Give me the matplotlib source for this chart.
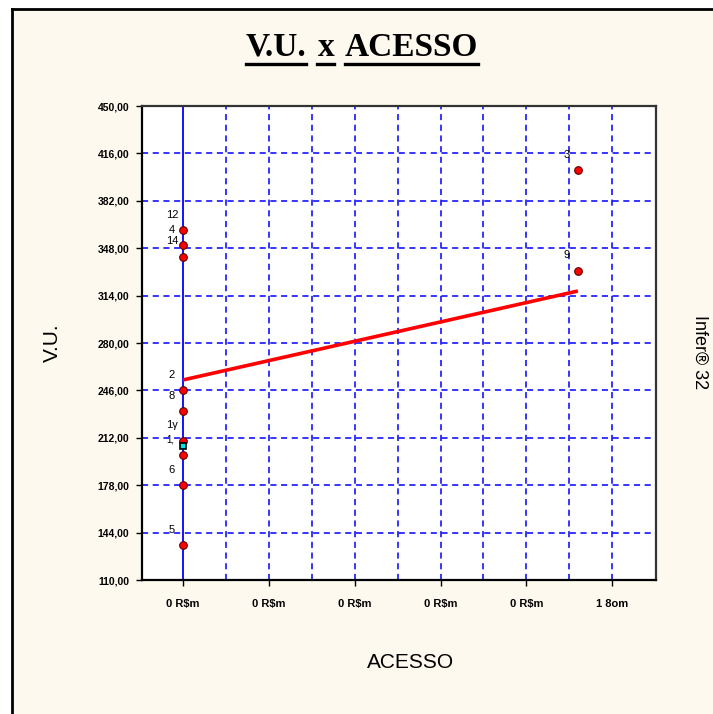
import numpy as np
import matplotlib
matplotlib.use("Agg")
import matplotlib.pyplot as plt
from matplotlib.lines import Line2D
from matplotlib.patches import Rectangle

# dados
y_ticks = [110, 144, 178, 212, 246, 280, 314, 348, 382, 416, 450]
y_labels = ["110,00", "144,00", "178,00", "212,00", "246,00", "280,00",
            "314,00", "348,00", "382,00", "416,00", "450,00"]
x_ticks = [0, 1, 2, 3, 4, 5]
x_labels = ["0 R$m", "0 R$m", "0 R$m", "0 R$m", "0 R$m", "1 8om"]

acesso = [0, 0, 0, 0, 0, 0, 0, 0, 0, 4.6, 4.6]
vu = [361, 350, 342, 246, 231, 210, 200, 178, 135, 404, 332]
rotulos = ["12", "4", "14", "2", "8", "1\u03b3", "", "6", "5", "3", "9"]

# ponto em destaque (ciano)
acesso_sel = [0]
vu_sel = [206]
rotulos_sel = ["1,"]

# reta de regressao
reta_x = [0, 4.6]
reta_y = [253.5, 317.3]

fundo = "#fdf9ee"

fig = plt.figure(figsize=(7.13, 7.14), dpi=100)
fig.patch.set_facecolor("white")
W, H = 713, 714
fig.patches.append(Rectangle((12 / W, 0), 1, 1 - 9 / H, transform=fig.transFigure,
                             facecolor=fundo, edgecolor="none", zorder=-10))
fig.lines.append(Line2D([12 / W, 12 / W], [0, 1 - 9 / H], transform=fig.transFigure,
                        color="black", lw=2))
fig.lines.append(Line2D([12 / W, 1], [1 - 9 / H, 1 - 9 / H], transform=fig.transFigure,
                        color="black", lw=2))

ax = fig.add_axes([142 / W, 1 - 580 / H, 514 / W, 474 / H])
ax.set_facecolor("white")
ax.set_xlim(-0.478, 5.51)
ax.set_ylim(110, 450)

# grade
for gx in np.arange(0.5, 5.01, 0.5):
    ax.axvline(gx, color="#0000ff", lw=1.1, ls=(0, (4, 3)), zorder=1)
for gy in y_ticks[1:-1]:
    ax.axhline(gy, color="#0000ff", lw=1.1, ls=(0, (4, 3)), zorder=1)
ax.axvline(0, color="#0000ff", lw=1.3, zorder=2)

ax.plot(reta_x, reta_y, color="#ff0000", lw=2.6, zorder=3, solid_capstyle="butt")

ax.plot(acesso, vu, ls="none", marker="o", ms=5.5, mfc="#ff0000", mec="#600000",
        mew=0.8, zorder=4)
ax.plot(acesso_sel, vu_sel, ls="none", marker="s", ms=5, mfc="#00e5e5", mec="black",
        mew=1.2, zorder=5)

for xx, yy, r in zip(acesso, vu, rotulos):
    if r:
        ax.annotate(r, (xx, yy), xytext=(-8, 11), textcoords="offset points",
                    ha="center", va="center", fontsize=8, family="Liberation Sans",
                    zorder=6)
for xx, yy, r in zip(acesso_sel, vu_sel, rotulos_sel):
    ax.annotate(r, (xx, yy), xytext=(-9, 5), textcoords="offset points",
                ha="center", va="center", fontsize=7, family="Liberation Sans",
                zorder=6)

ax.set_yticks(y_ticks)
ax.set_yticklabels(y_labels, fontsize=7.5, family="Liberation Sans", fontweight="bold")
ax.set_xticks(x_ticks)
ax.set_xticklabels(x_labels, fontsize=8, family="Liberation Sans", fontweight="bold")
ax.tick_params(axis="both", direction="out", length=4, width=1, colors="black", pad=5)
ax.tick_params(axis="x", pad=10)
for s in ["left", "bottom"]:
    ax.spines[s].set_linewidth(1.6)
    ax.spines[s].set_color("black")
for s in ["top", "right"]:
    ax.spines[s].set_linewidth(1.6)
    ax.spines[s].set_color("#333333")

# titulo sublinhado
palavras = ["V.U.", "x", "ACESSO"]
renderer = fig.canvas.get_renderer()
textos = []
larguras = []
for p in palavras:
    t = fig.text(0, 1 - 47 / H, p, fontsize=24, family="Liberation Serif",
                 fontweight="bold", ha="left", va="center")
    textos.append(t)
    larguras.append(t.get_window_extent(renderer).width)
gap = 11
total = sum(larguras) + gap * (len(palavras) - 1)
x0 = 362 - total / 2
for t, w in zip(textos, larguras):
    t.set_x(x0 / W)
    fig.lines.append(Line2D([x0 / W, (x0 + w) / W], [1 - 64 / H, 1 - 64 / H],
                            transform=fig.transFigure, color="black", lw=2.4))
    x0 += w + gap

fig.text(52 / W, 1 - 343 / H, "V.U.", rotation=90, fontsize=15, family="Liberation Sans",
         ha="center", va="center")
fig.text(411 / W, 1 - 662 / H, "ACESSO", fontsize=15, family="Liberation Sans",
         ha="center", va="center")
fig.text(700 / W, 1 - 352 / H, "Infer\u00ae 32", rotation=-90, fontsize=13,
         family="Liberation Sans", ha="center", va="center")

fig.savefig("out.png", dpi=100, facecolor=fig.get_facecolor())
